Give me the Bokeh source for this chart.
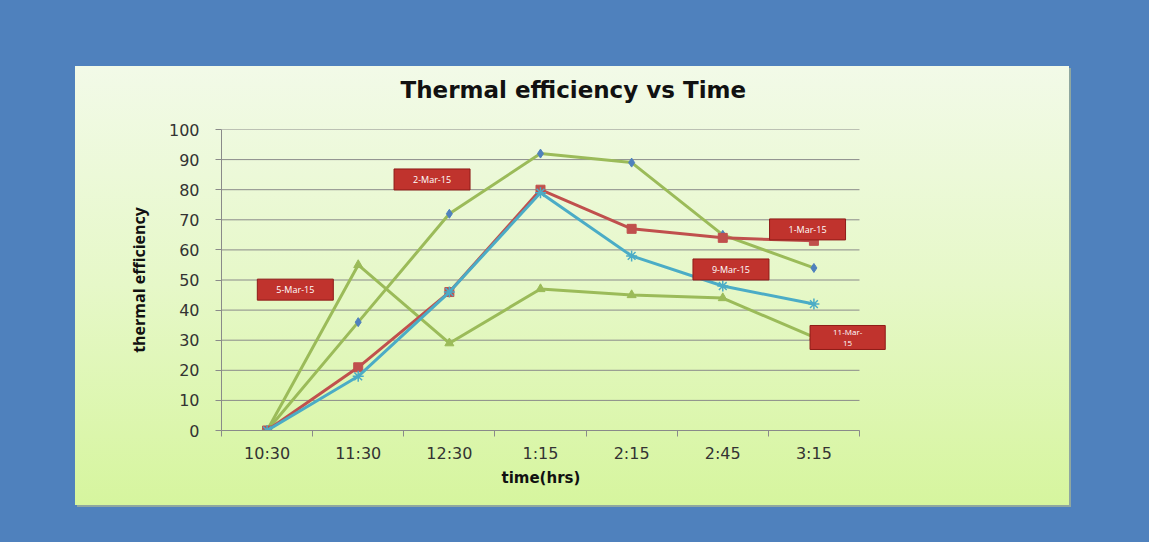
from bokeh.plotting import figure
from bokeh.models import Range1d, FixedTicker, Label, Title
from bokeh.embed import file_html
from bokeh.resources import INLINE

# ---- data ----
times = ["10:30", "11:30", "12:30", "1:15", "2:15", "2:45", "3:15"]
series_diamond = [0, 36, 72, 92, 89, 65, 54]
series_square = [0, 21, 46, 80, 67, 64, 63]
series_star = [0, 18, 46, 79, 58, 48, 42]
series_triangle = [0, 55, 29, 47, 45, 44, 31]
y_ticks = [0, 10, 20, 30, 40, 50, 60, 70, 80, 90, 100]
label_texts = ["2-Mar-15", "5-Mar-15", "1-Mar-15", "9-Mar-15", "11-Mar-\n15"]
label_x = [2.31, 0.81, 6.43, 5.59, 6.87]
label_y = [83.4, 46.8, 66.8, 53.5, 30.9]

BLUE = "#4f81bd"
GREEN = "#9bbb59"
RED = "#c0504d"
CYAN = "#4bacc6"
GRID = "#8a8a8a"

n = len(times)
xs = [i + 0.5 for i in range(n)]
EXTRA = 0.45  # room to the right of the axis for the last data label

bg = ("linear-gradient(to bottom, #f2fae8 0%, #e6f8c8 50%, #d6f59e 100%) 75px 66px / 994px 439px no-repeat, "
      "linear-gradient(#8fa7a0, #8fa7a0) 77px 68px / 994px 439px no-repeat, " + BLUE)

p = figure(width=1149, height=542, output_backend="svg", toolbar_location=None,
           x_range=Range1d(0, n + EXTRA), y_range=Range1d(0, 100),
           min_border_left=221, min_border_right=249, min_border_top=129, min_border_bottom=112,
           border_fill_color=None, background_fill_color=None, outline_line_color=None,
           styles={"background": bg})

p.title.text = "Thermal efficiency  vs Time"
p.title.text_font = "DejaVu Sans"
p.title.text_font_size = "23px"
p.title.text_font_style = "bold"
p.title.text_color = "#111111"
p.title.align = "left"
p.title.offset = 179
try:
    p.title.standoff = 53
except AttributeError:
    pass

# x axis
p.xaxis.bounds = (0, n)
p.xaxis.ticker = FixedTicker(ticks=xs, minor_ticks=list(range(n + 1)))
p.xaxis.major_label_overrides = {x: t for x, t in zip(xs, times)}
p.xaxis.major_tick_line_color = None
p.xaxis.major_tick_out = 6
p.xaxis.major_tick_in = 0
p.xaxis.minor_tick_line_color = GRID
p.xaxis.minor_tick_out = 6
p.xaxis.minor_tick_in = 0
p.xaxis.axis_line_color = GRID
p.xaxis.major_label_text_font = "DejaVu Sans"
p.xaxis.major_label_text_font_size = "16px"
p.xaxis.major_label_text_color = "#333333"
p.xaxis.major_label_standoff = 7
p.xgrid.visible = False
p.ygrid.visible = False

# x axis title, centred under the axis (not the wider frame)
xtitle = Title(text="time(hrs)", text_font="DejaVu Sans", text_font_size="15px",
               text_font_style="bold", text_color="#111111", align="left", offset=280)
try:
    xtitle.standoff = 2
except AttributeError:
    pass
p.add_layout(xtitle, "below")

# y axis
p.yaxis.ticker = FixedTicker(ticks=y_ticks)
p.yaxis.major_tick_line_color = GRID
p.yaxis.major_tick_out = 6
p.yaxis.major_tick_in = 0
p.yaxis.minor_tick_line_color = None
p.yaxis.axis_line_color = GRID
p.yaxis.major_label_text_font = "DejaVu Sans"
p.yaxis.major_label_text_font_size = "16px"
p.yaxis.major_label_text_color = "#333333"
p.yaxis.major_label_standoff = 16
p.yaxis.axis_label = "thermal efficiency"
p.yaxis.axis_label_text_font = "Open Sans"
p.yaxis.axis_label_text_font_size = "16px"
p.yaxis.axis_label_text_font_style = "bold"
p.yaxis.axis_label_text_color = "#111111"
p.yaxis.axis_label_standoff = 16

# horizontal gridlines, limited to the axis extent
p.segment(x0=[0] * len(y_ticks), x1=[n] * len(y_ticks), y0=y_ticks, y1=y_ticks,
          line_color=GRID, line_width=1)

# series
p.line(xs, series_diamond, line_color=GREEN, line_width=3)
p.scatter(xs, series_diamond, marker="diamond", size=9, color=BLUE)

p.line(xs, series_triangle, line_color=GREEN, line_width=3)
p.scatter(xs, series_triangle, marker="triangle", size=9, color=GREEN)

p.line(xs, series_square, line_color=RED, line_width=3)
p.scatter(xs, series_square, marker="square", size=9, color=RED)

p.line(xs, series_star, line_color=CYAN, line_width=3)
p.scatter(xs, series_star, marker="asterisk", size=11, line_color=CYAN, line_width=1.5)

# data labels
for t, x, y in zip(label_texts, label_x, label_y):
    lines = t.split("\n")
    two = len(lines) > 1
    fs = 8 if two else 9
    est_w = max(len(l) for l in lines) * fs * 0.55
    padx = max(2, int(round((77 - est_w) / 2)))
    pady = 1 if two else 4
    lab = Label(x=x, y=y, text=t, text_align="center", text_baseline="middle",
                text_color="white", text_font_size=f"{fs}px", text_font="Open Sans",
                text_line_height=1.0,
                background_fill_color="#c0332d", border_line_color="#8e1c18")
    try:
        lab.padding = dict(left=padx, right=padx, top=pady, bottom=pady)
    except Exception:
        try:
            lab.padding = 4
        except Exception:
            pass
    p.add_layout(lab)

open("out.html", "w").write(file_html(p, INLINE))
